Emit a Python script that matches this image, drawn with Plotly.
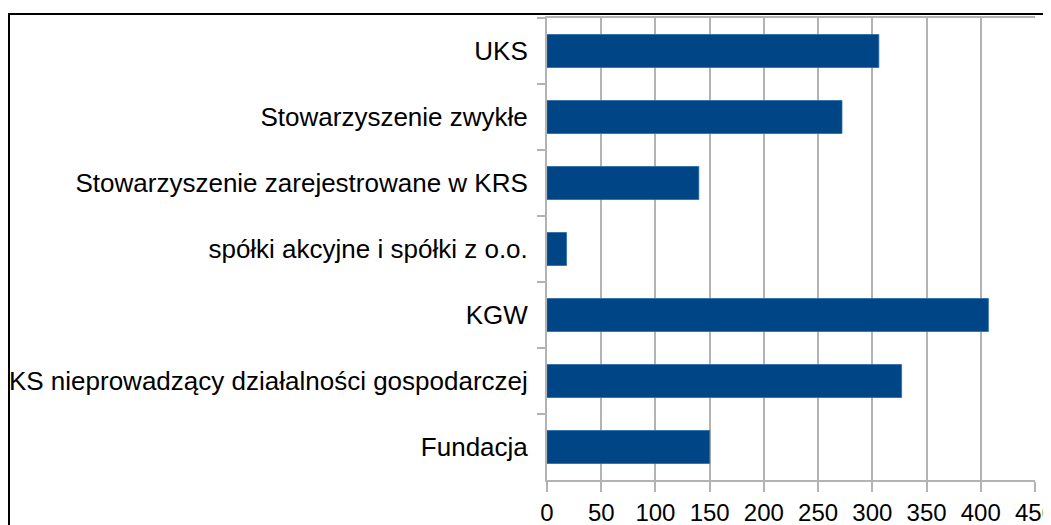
import plotly.graph_objects as go

categories = [
    "UKS",
    "Stowarzyszenie zwykłe",
    "Stowarzyszenie zarejestrowane w KRS",
    "spółki akcyjne i spółki z o.o.",
    "KGW",
    "KS nieprowadzący działalności gospodarczej",
    "Fundacja",
]
values = [306, 272, 140, 18, 407, 327, 150]
x_ticks = [0, 50, 100, 150, 200, 250, 300, 350, 400, 450]

# page body has an 8px default offset; margins compensate for it
W, H = 1051, 525
L, R, T, B = 539, 24, 10, 53
pw, ph = W - L - R, H - T - B

fig = go.Figure(
    go.Bar(
        x=values,
        y=categories,
        orientation="h",
        marker=dict(color="#004586", line=dict(color="#2a6aa8", width=0.8)),
        width=0.5,
    )
)

xfont = dict(family="Liberation Sans, Arial, sans-serif", size=24, color="#000000")
yfont = dict(family="Liberation Sans, Arial, sans-serif", size=26, color="#000000")

fig.update_layout(
    template="none",
    width=W,
    height=H,
    margin=dict(l=L, r=R, t=T, b=B, autoexpand=False),
    paper_bgcolor="white",
    plot_bgcolor="white",
    showlegend=False,
    font=xfont,
    xaxis=dict(
        range=[0, 450],
        tickvals=x_ticks,
        automargin=False,
        showgrid=True,
        gridcolor="#b3b3b3",
        gridwidth=2,
        zeroline=False,
        showline=True,
        linecolor="#b3b3b3",
        linewidth=2,
        mirror=True,
        ticks="outside",
        ticklen=10,
        tickwidth=2,
        tickcolor="#b3b3b3",
        tickfont=xfont,
        ticklabeloverflow="allow",
        ticklabelstandoff=0,
    ),
    yaxis=dict(
        autorange="reversed",
        automargin=False,
        showgrid=False,
        zeroline=False,
        showline=True,
        linecolor="#b3b3b3",
        linewidth=2,
        ticks="outside",
        tickson="boundaries",
        ticklen=8,
        tickwidth=2,
        tickcolor="#b3b3b3",
        tickfont=yfont,
        ticklabelstandoff=12,
    ),
)

# outer black frame (top at page y=14, left at page x=8)
x0 = (0 - L) / pw
y1 = (H - 6 - B) / ph
fig.add_shape(
    type="rect",
    xref="paper",
    yref="paper",
    x0=x0 + 1 / pw,
    x1=1.5,
    y0=-0.5,
    y1=y1,
    line=dict(color="black", width=2),
    fillcolor="rgba(0,0,0,0)",
    layer="below",
)

fig.write_html("out.html")
